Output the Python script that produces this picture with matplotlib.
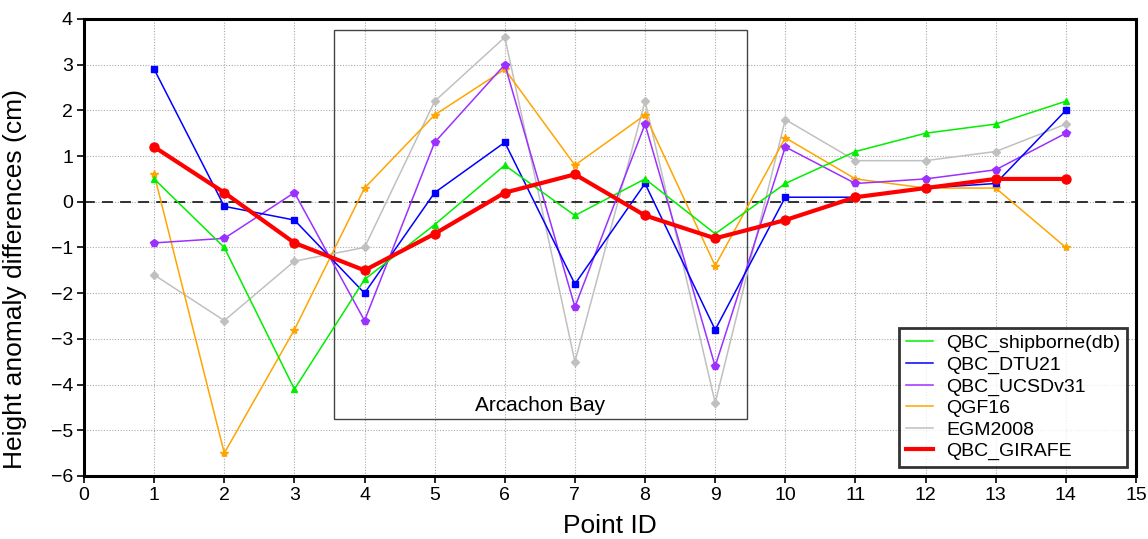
import matplotlib.pyplot as plt
from matplotlib.lines import Line2D

plt.rcParams['font.family'] = ['Liberation Sans', 'DejaVu Sans']

point_ids = list(range(1, 15))
shipborne = [0.5, -1.0, -4.1, -1.7, -0.5, 0.8, -0.3, 0.5, -0.7, 0.4, 1.1, 1.5, 1.7, 2.2]
dtu21 = [2.9, -0.1, -0.4, -2.0, 0.2, 1.3, -1.8, 0.4, -2.8, 0.1, 0.1, 0.3, 0.4, 2.0]
ucsd = [-0.9, -0.8, 0.2, -2.6, 1.3, 3.0, -2.3, 1.7, -3.6, 1.2, 0.4, 0.5, 0.7, 1.5]
qgf16 = [0.6, -5.5, -2.8, 0.3, 1.9, 2.9, 0.8, 1.9, -1.4, 1.4, 0.5, 0.3, 0.3, -1.0]
egm2008 = [-1.6, -2.6, -1.3, -1.0, 2.2, 3.6, -3.5, 2.2, -4.4, 1.8, 0.9, 0.9, 1.1, 1.7]
girafe = [1.2, 0.2, -0.9, -1.5, -0.7, 0.2, 0.6, -0.3, -0.8, -0.4, 0.1, 0.3, 0.5, 0.5]

fig = plt.figure(figsize=(11.48, 5.39), dpi=100)
ax = fig.add_axes([0.0732, 0.1169, 0.9163, 0.8479])

ax.grid(True, color='#aaaaaa', linestyle=(0, (1, 1.5)), linewidth=0.8)
ax.set_axisbelow(True)
ax.axhline(0, color='#222222', linewidth=1.3, linestyle=(0, (6, 4)), zorder=1)

ax.plot(point_ids, egm2008, color='#c0c0c0', marker='D', markersize=4, linewidth=1.1, label='EGM2008', zorder=2)
ax.plot(point_ids, qgf16, color='#ffa500', marker='*', markersize=6, linewidth=1.1, label='QGF16', zorder=3)
ax.plot(point_ids, ucsd, color='#9b30ff', marker='p', markersize=6, linewidth=1.1, label='QBC_UCSDv31', zorder=4)
ax.plot(point_ids, dtu21, color='#0000ff', marker='s', markersize=4.5, linewidth=1.1, label='QBC_DTU21', zorder=5)
ax.plot(point_ids, shipborne, color='#00ee00', marker='^', markersize=5, linewidth=1.1, label='QBC_shipborne(db)', zorder=6)
ax.plot(point_ids, girafe, color='#ff0000', marker='o', markersize=6.5, linewidth=3, label='QBC_GIRAFE', zorder=7)

# Arcachon Bay box
ax.add_patch(plt.Rectangle((3.565, -4.75), 9.45 - 3.565, 3.75 + 4.75, fill=False,
                           edgecolor='#444444', linewidth=1.0, zorder=1.5))
ax.text(6.5, -4.45, 'Arcachon Bay', ha='center', va='center', fontsize=15)

ax.set_xlim(0, 15)
ax.set_ylim(-6, 4)
ax.set_xticks(range(0, 16))
ax.set_yticks(range(-6, 5))
ax.set_yticklabels([str(v).replace('-', '\u2212') for v in range(-6, 5)])
ax.tick_params(labelsize=14, direction='out', length=5, width=1.2, pad=3)
ax.set_xlabel('Point ID', fontsize=19, labelpad=7)
ax.set_ylabel('Height anomaly differences (cm)', fontsize=19)
ax.yaxis.set_label_coords(-0.054, 0.43)

for side in ['left', 'bottom', 'right', 'top']:
    ax.spines[side].set_linewidth(2.2)
    ax.spines[side].set_color('black')

handles, labels = ax.get_legend_handles_labels()
order = ['QBC_shipborne(db)', 'QBC_DTU21', 'QBC_UCSDv31', 'QGF16', 'EGM2008', 'QBC_GIRAFE']
hmap = dict(zip(labels, handles))
leg_handles = [Line2D([], [], color=hmap[l].get_color(), linewidth=hmap[l].get_linewidth()) for l in order]
leg = ax.legend(leg_handles, order, loc='lower right', fontsize=14, frameon=True, fancybox=False,
                edgecolor='black', handlelength=1.4, handletextpad=0.65, labelspacing=0.2,
                borderpad=0.35, borderaxespad=0, bbox_to_anchor=(0.9915, 0.0195))
leg.get_frame().set_linewidth(2)
leg.set_zorder(10)

plt.savefig('out.png', dpi=100)
plt.close()
